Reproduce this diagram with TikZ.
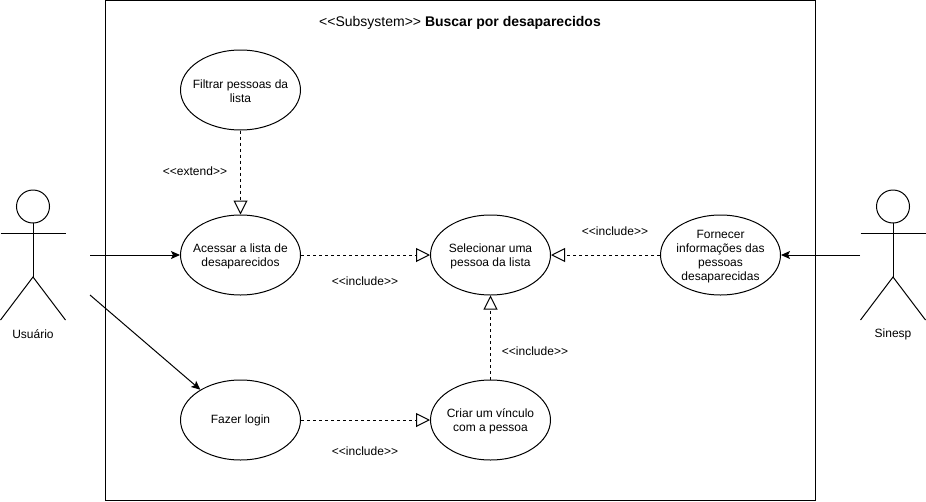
\documentclass[tikz,border=0pt]{standalone}
\usepackage{fontspec}
\setmainfont{Liberation Sans}[Ligatures=Common]
\usetikzlibrary{shapes,arrows.meta}

\newcommand{\stereo}[1]{<{}<#1>{}>}
\newcommand{\topfix}{\rule{0pt}{12pt}}

\tikzset{
    usecase/.style={draw, ellipse, minimum width=120pt, minimum height=80pt, inner xsep=-20pt, inner ysep=-10pt, align=center, font=\fontsize{12}{14}\selectfont},
    lbl/.style={font=\fontsize{12}{14}\selectfont, inner sep=0pt},
    dep/.style={dashed, dash pattern=on 3pt off 3pt, -{Triangle[open,length=14pt,width=14pt]}},
    assoc/.style={-{Stealth[length=9pt,width=8pt,inset=2pt]}},
}

\begin{document}
\begin{tikzpicture}[x=1pt,y=-1pt,line width=1pt]
        \useasboundingbox (0,0) rectangle (926,501);
        \draw (105.5,0.5) rectangle (815.5,500.5);
        \node[inner sep=0pt, font=\fontsize{14}{16}\selectfont] (title) at (460,22.5) {\stereo{Subsystem} \textbf{Buscar por desaparecidos}};
        % use cases
        \node[usecase] (filtrar) at (240.5,90) {\topfix Filtrar pessoas da\\lista};
        \node[usecase] (acessar) at (240.5,255) {\topfix Acessar a lista de\\desaparecidos};
        \node[usecase] (selecionar) at (490.5,255) {\topfix Selecionar uma\\pessoa da lista};
        \node[usecase] (fornecer) at (720.5,255) {\topfix Fornecer\\informações das\\pessoas\\desaparecidas};
        \node[usecase] (login) at (240.5,420) {Fazer login};
        \node[usecase] (vinculo) at (490.5,420) {\topfix Criar um vínculo\\com a pessoa};
        % actors
        \draw (33,206.5) circle (16.5);
        \draw (33,223) -- (33,277);
        \draw (0.5,233.5) -- (65.5,233.5);
        \draw (0.5,320) -- (33,277) -- (65.5,320);
        \node[lbl] (usuario) at (33,334) {Usuário};
        \draw (893,206.5) circle (16.5);
        \draw (893,223) -- (893,277);
        \draw (860.5,233.5) -- (925.5,233.5);
        \draw (860.5,320) -- (893,277) -- (925.5,320);
        \node[lbl] (sinesp) at (893,334) {Sinesp};
        \coordinate (usuarioa) at (90,255);
        \coordinate (usuariob) at (90,295);
        \coordinate (sinespa) at (860,255);
        % connectors
        \draw[assoc] (usuarioa) -- (acessar);
        \draw[assoc] (usuariob) -- (login.143);
        \draw[assoc] (sinespa) -- (fornecer);
        \draw[dep] (filtrar) -- (acessar);
        \draw[dep] (acessar) -- (selecionar);
        \draw[dep] (fornecer) -- (selecionar);
        \draw[dep] (vinculo) -- (selecionar);
        \draw[dep] (login) -- (vinculo);
        % labels
        \node[lbl] (extend) at (195,171) {\stereo{extend}};
        \node[lbl] (inca) at (365,281) {\stereo{include}};
        \node[lbl] (incb) at (615,231) {\stereo{include}};
        \node[lbl] (incc) at (535,351) {\stereo{include}};
        \node[lbl] (incd) at (365,451) {\stereo{include}};
    \end{tikzpicture}
\end{document}
